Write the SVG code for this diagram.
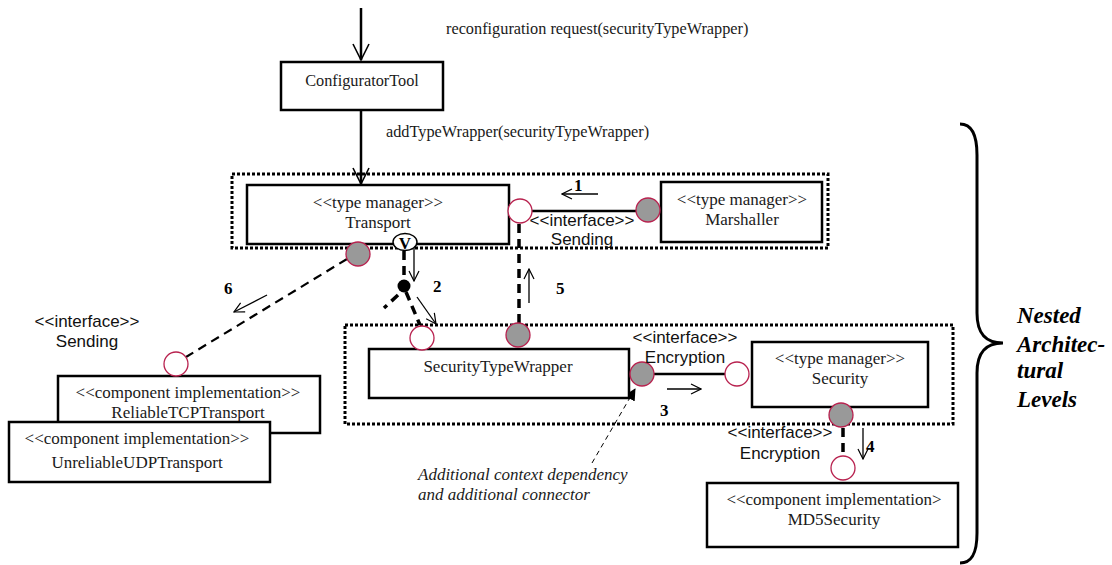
<svg xmlns="http://www.w3.org/2000/svg" width="1112" height="565" viewBox="0 0 1112 565">
  <defs>
    <marker id="open" viewBox="0 0 20 20" refX="18" refY="10" markerWidth="20" markerHeight="20" markerUnits="userSpaceOnUse" orient="auto">
      <path d="M2 2 L18 10 L2 18" fill="none" stroke="#000" stroke-width="1.6"/>
    </marker>
    <marker id="small" viewBox="0 0 12 12" refX="11" refY="6" markerWidth="12" markerHeight="12" markerUnits="userSpaceOnUse" orient="auto">
      <path d="M1 1 L11 6 L1 11" fill="none" stroke="#000" stroke-width="1.2"/>
    </marker>
    <marker id="solid" viewBox="0 0 12 12" refX="11" refY="6" markerWidth="12" markerHeight="12" markerUnits="userSpaceOnUse" orient="auto">
      <path d="M0 0 L12 6 L0 12 Z" fill="#000"/>
    </marker>
  </defs>
  <style>
    .box { fill: #fff; stroke: #000; stroke-width: 2.5; }
    .level { fill: none; stroke: #000; stroke-width: 3; stroke-dasharray: 3 2; }
    .req { fill: #fff; stroke: #b8224f; stroke-width: 1.3; }
    .prov { fill: #999; stroke: #b8224f; stroke-width: 1.3; }
    .t { font-family: "Liberation Serif", "Times New Roman", serif; font-size: 17px; fill: #1a1a1a; }
    .c { text-anchor: middle; }
    .msg { font-family: "Liberation Serif", "Times New Roman", serif; font-size: 16.3px; fill: #1a1a1a; }
    .a { font-family: "Liberation Sans", Arial, sans-serif; font-size: 17px; fill: #111; text-anchor: middle; }
    .num { font-family: "Liberation Serif", "Times New Roman", serif; font-size: 17px; font-weight: bold; fill: #000; }
    .note { font-family: "Liberation Serif", "Times New Roman", serif; font-size: 17px; font-style: italic; fill: #1a1a1a; }
    .big { font-family: "Liberation Serif", "Times New Roman", serif; font-size: 23px; font-style: italic; font-weight: bold; fill: #000; }
    .line { fill: none; stroke: #000; stroke-width: 2.5; }
    .thin { fill: none; stroke: #000; stroke-width: 1.3; }
    .dashThick { fill: none; stroke: #000; stroke-width: 3.5; stroke-dasharray: 9 6; }
    .dash { fill: none; stroke: #000; stroke-width: 2.2; stroke-dasharray: 9 6; }
    .dashFine { fill: none; stroke: #000; stroke-width: 1; stroke-dasharray: 5 4; }
  </style>

  <!-- architectural levels (dotted frames) -->
  <g id="levels">
    <rect class="level" x="232" y="174" width="596" height="74"/>
    <rect class="level" x="345" y="325" width="608" height="99"/>
  </g>

  <!-- connectors -->
  <g id="connectors">
    <line class="line" x1="361" y1="8" x2="361" y2="60" marker-end="url(#open)"/>
    <line class="line" x1="361" y1="110" x2="361" y2="184" marker-end="url(#open)"/>
    <line class="line" x1="532" y1="211" x2="636" y2="211"/>
    <line class="line" x1="654" y1="374" x2="725" y2="374"/>
    <!-- dependency links -->
    <line class="dashThick" x1="404" y1="251" x2="404" y2="284"/>
    <line class="dashThick" x1="406" y1="292" x2="420" y2="325"/>
    <line class="dashThick" x1="398" y1="295" x2="384" y2="308"/>
    <line class="dashThick" x1="519" y1="224" x2="519" y2="323"/>
    <line class="dashThick" x1="843" y1="428" x2="843" y2="455"/>
    <line class="dash" x1="347" y1="259" x2="186" y2="357"/>
    <circle cx="404" cy="286" r="6.5" fill="#000"/>
    <!-- numbered flow arrows -->
    <line class="thin" x1="598" y1="194" x2="562" y2="194" marker-end="url(#small)"/>
    <line class="thin" x1="414" y1="248" x2="414" y2="281" marker-end="url(#small)"/>
    <line class="thin" x1="417" y1="297" x2="436" y2="324" marker-end="url(#small)"/>
    <line class="thin" x1="667" y1="389" x2="701" y2="389" marker-end="url(#small)"/>
    <line class="thin" x1="863" y1="428" x2="863" y2="459" marker-end="url(#small)"/>
    <line class="thin" x1="529" y1="303" x2="529" y2="269" marker-end="url(#small)"/>
    <line class="thin" x1="267" y1="295" x2="234" y2="312" marker-end="url(#small)"/>
    <!-- added context dependency -->
    <line class="dashFine" x1="592" y1="463" x2="635" y2="389" marker-end="url(#solid)"/>
  </g>

  <g id="configuratorTool">
    <rect class="box" x="281" y="62" width="162" height="48"/>
    <text class="msg c" x="362" y="86">ConfiguratorTool</text>
  </g>

  <g id="transport">
    <rect class="box" x="247" y="185" width="262" height="59"/>
    <text class="t c" x="378" y="208">&lt;&lt;type manager&gt;&gt;</text>
    <text class="t c" x="378" y="228">Transport</text>
    <circle class="req" cx="520" cy="211" r="12"/>
    <circle class="prov" cx="358" cy="254" r="12"/>
    <ellipse cx="405" cy="242" rx="12" ry="8.5" fill="#fff" stroke="#000" stroke-width="1.5"/>
    <text x="405" y="249" text-anchor="middle" font-family="Liberation Serif, serif" font-size="17" font-weight="bold">V</text>
  </g>

  <g id="marshaller">
    <rect class="box" x="661" y="182" width="161" height="60"/>
    <text class="t c" x="742" y="205">&lt;&lt;type manager&gt;&gt;</text>
    <text class="t c" x="742" y="225">Marshaller</text>
    <circle class="prov" cx="648" cy="210" r="12"/>
  </g>

  <g id="securityTypeWrapper">
    <rect class="box" x="369" y="349" width="260" height="49"/>
    <text class="t c" x="498" y="372">SecurityTypeWrapper</text>
    <circle class="req" cx="422" cy="338" r="12"/>
    <circle class="prov" cx="518" cy="335" r="12"/>
    <circle class="prov" cx="642" cy="374" r="12"/>
  </g>

  <g id="security">
    <rect class="box" x="752" y="342" width="176" height="65"/>
    <text class="t c" x="840" y="364">&lt;&lt;type manager&gt;&gt;</text>
    <text class="t c" x="840" y="384">Security</text>
    <circle class="req" cx="737" cy="374" r="12"/>
    <circle class="prov" cx="841" cy="415" r="12"/>
  </g>

  <g id="md5Security">
    <rect class="box" x="707" y="483" width="251" height="64"/>
    <text class="t c" x="834" y="505">&lt;&lt;component implementation&gt;</text>
    <text class="t c" x="834" y="525">MD5Security</text>
    <circle class="req" cx="843" cy="468" r="12"/>
  </g>

  <g id="reliableTCPTransport">
    <rect class="box" x="58" y="376" width="262" height="57"/>
    <text class="t c" x="188" y="398">&lt;&lt;component implementation&gt;&gt;</text>
    <text class="t c" x="188" y="418">ReliableTCPTransport</text>
    <circle class="req" cx="176" cy="364" r="12"/>
  </g>

  <g id="unreliableUDPTransport">
    <rect class="box" x="9" y="422" width="261" height="60"/>
    <text class="t c" x="137" y="444">&lt;&lt;component implementation&gt;&gt;</text>
    <text class="t c" x="137" y="468">UnreliableUDPTransport</text>
  </g>

  <!-- labels -->
  <g id="labels">
    <text class="msg" x="446" y="34">reconfiguration request(securityTypeWrapper)</text>
    <text class="msg" x="386" y="137">addTypeWrapper(securityTypeWrapper)</text>
    <text class="a" x="582" y="226">&lt;&lt;interface&gt;&gt;</text>
    <text class="a" x="582" y="245">Sending</text>
    <text class="a" x="87" y="327">&lt;&lt;interface&gt;&gt;</text>
    <text class="a" x="87" y="347">Sending</text>
    <text class="a" x="685" y="343">&lt;&lt;interface&gt;&gt;</text>
    <text class="a" x="685" y="363">Encryption</text>
    <text class="a" x="780" y="438">&lt;&lt;interface&gt;&gt;</text>
    <text class="a" x="780" y="459">Encryption</text>
    <text class="num" x="574" y="191">1</text>
    <text class="num" x="433" y="292">2</text>
    <text class="num" x="660" y="416">3</text>
    <text class="num" x="866" y="452">4</text>
    <text class="num" x="556" y="294">5</text>
    <text class="num" x="224" y="294">6</text>
    <text class="note" x="418" y="480">Additional context dependency</text>
    <text class="note" x="418" y="500">and additional connector</text>
  </g>

  <g id="brace">
    <path d="M960 124 C972 124 977 135 977 155 L977 313 C977 333 985 343 1003 343 C985 343 977 353 977 373 L977 533 C977 553 972 563 960 563" fill="none" stroke="#000" stroke-width="3"/>
    <text class="big" x="1017" y="323">Nested</text>
    <text class="big" x="1017" y="352">Architec-</text>
    <text class="big" x="1017" y="378">tural</text>
    <text class="big" x="1017" y="407">Levels</text>
  </g>
</svg>
